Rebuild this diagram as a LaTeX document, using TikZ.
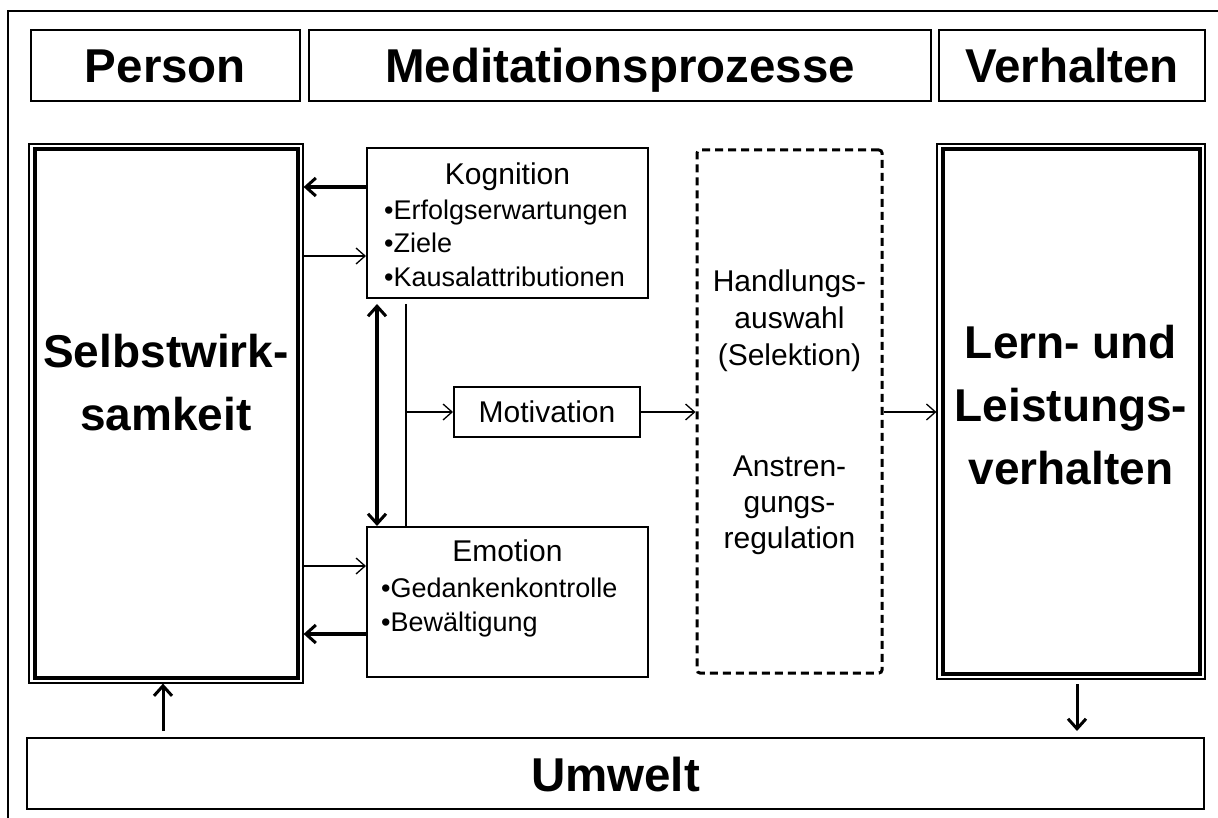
\documentclass[tikz,border=0pt]{standalone}
\usepackage{fontspec}
\setmainfont{Liberation Sans}
\usetikzlibrary{arrows.meta}
\tikzset{
  box/.style={draw=black, line width=2pt, rectangle, inner sep=0pt},
  head/.style={box, minimum height=71pt, text height=35pt, text depth=0pt, font=\fontsize{47.5}{56}\selectfont\bfseries},
  outerbox/.style={draw=black, line width=1.2pt, rectangle, inner sep=0pt},
  innerbox/.style={draw=black, line width=4pt, rectangle, inner sep=0pt},
  big/.style={font=\fontsize{46}{63}\selectfont\bfseries, align=center},
  txt/.style={font=\fontsize{27}{34}\selectfont, inner sep=0pt},
  ttl/.style={font=\fontsize{30}{34}\selectfont, inner sep=0pt},
  dtxt/.style={font=\fontsize{30}{37}\selectfont, align=center, inner sep=0pt},
  dtxtb/.style={font=\fontsize{30}{36}\selectfont, align=center, inner sep=0pt},
  thinarr/.style={line width=1.3pt, -{Straight Barb[length=9pt,width=16pt,line width=1.3pt]}},
  thickarr/.style={line width=3.5pt, -{Straight Barb[length=10pt,width=18pt,line width=3pt]}},
  dashbox/.style={draw=black, line width=3pt, dash pattern=on 8pt off 5pt, rounded corners=3pt, rectangle, inner sep=0pt},
}
\begin{document}
\begin{tikzpicture}[x=1pt,y=-1pt]
\useasboundingbox (0,0) rectangle (1218,818);
% outer frame (partial)
\draw[line width=2.5pt] (8,830) -- (8,11) -- (1230,11);
% headers
\node[head, minimum width=269pt] (person) at (165.5,65.5) {Person};
\node[head, minimum width=622pt] (medi) at (620,65.5) {Meditationsprozesse};
\node[head, minimum width=266pt] (verh) at (1072,65.5) {Verhalten};
% Selbstwirksamkeit
\node[outerbox, minimum width=274pt, minimum height=539pt] (selbst) at (166,413.5) {};
\node[innerbox, minimum width=263pt, minimum height=528pt] (selbsti) at (166,413.5) {};
\node[big] (selbstt) at (166,383) {Selbstwirk-\\samkeit};
% Lern
\node[outerbox, minimum width=268pt, minimum height=535pt] (lern) at (1071,411.5) {};
\node[innerbox, minimum width=257pt, minimum height=524pt] (lerni) at (1071,411.5) {};
\node[big] (lernt) at (1071,405) {Lern- und\\Leistungs-\\verhalten};
% Kognition
\node[box, minimum width=281pt, minimum height=150pt] (kog) at (507.5,223) {};
\node[ttl, anchor=base] (kogt) at (507.5,185) {Kognition};
\node[txt, anchor=base west] (kog1) at (384,220) {•Erfolgserwartungen};
\node[txt, anchor=base west] (kog2) at (384,253) {•Ziele};
\node[txt, anchor=base west] (kog3) at (384,287) {•Kausalattributionen};
% Emotion
\node[box, minimum width=281pt, minimum height=150pt] (emo) at (507.5,602) {};
\node[ttl, anchor=base] (emot) at (507.5,561) {Emotion};
\node[txt, anchor=base west] (emo1) at (381,597) {•Gedankenkontrolle};
\node[txt, anchor=base west] (emo2) at (381,631) {•Bewältigung};
% Motivation
\node[box, minimum width=186pt, minimum height=50pt, font=\fontsize{30}{34}\selectfont] (moti) at (547,412) {Motivation};
% dashed box
\node[dashbox, minimum width=185pt, minimum height=523pt] (dash) at (789.5,411.5) {};
\node[dtxt] (dasht1) at (789.5,321) {Handlungs-\\auswahl\\(Selektion)};
\node[dtxtb] (dasht2) at (789.5,505) {Anstren-\\gungs-\\regulation};
% Umwelt
\node[head, minimum width=1177pt] (umwelt) at (615.5,773.5) {Umwelt};
% coordinates for connectors
\coordinate (a1s) at (kog.west |- 0,187);
\coordinate (a1e) at (selbst.east |- 0,187);
\coordinate (a2s) at (selbst.east |- 0,256);
\coordinate (a2e) at (kog.west |- 0,256);
\coordinate (a3s) at (selbst.east |- 0,566);
\coordinate (a3e) at (emo.west |- 0,566);
\coordinate (a4s) at (emo.west |- 0,634);
\coordinate (a4e) at (selbst.east |- 0,634);
\draw[thickarr] (a1s) -- (a1e);
\draw[thinarr] (a2s) -- (a2e);
\draw[thinarr] (a3s) -- (a3e);
\draw[thickarr] (a4s) -- (a4e);
% double arrow between Kognition and Emotion
\coordinate (d1) at (377,304);
\coordinate (d2) at (377,0 |- emo.north);
\draw[line width=3.5pt, {Straight Barb[length=10pt,width=18pt,line width=3pt]}-{Straight Barb[length=10pt,width=18pt,line width=3pt]}] (d1) -- (d2);
% thin line and branch to Motivation
\coordinate (v1) at (406,304);
\coordinate (v2) at (406,0 |- emo.north);
\coordinate (vb) at (406,412);
\draw[line width=1.3pt] (v1) -- (v2);
\draw[thinarr] (vb) -- (moti.west);
% Motivation -> dashed -> Lern
\draw[thinarr] (moti.east) -- (dash.west |- moti.east);
\coordinate (l1) at (dash.east |- 0,412);
\coordinate (l2) at (lern.west |- 0,412);
\draw[thinarr] (l1) -- (l2);
% Umwelt <-> boxes
\coordinate (u1) at (163,731);
\coordinate (u1e) at (163,0 |- selbst.south);
\draw[line width=3pt, -{Straight Barb[length=10pt,width=18pt,line width=3pt]}] (u1) -- (u1e);
\coordinate (u2) at (1077,684);
\coordinate (u2e) at (1077,731);
\draw[line width=3pt, -{Straight Barb[length=10pt,width=18pt,line width=3pt]}] (u2) -- (u2e);
\end{tikzpicture}
\end{document}
